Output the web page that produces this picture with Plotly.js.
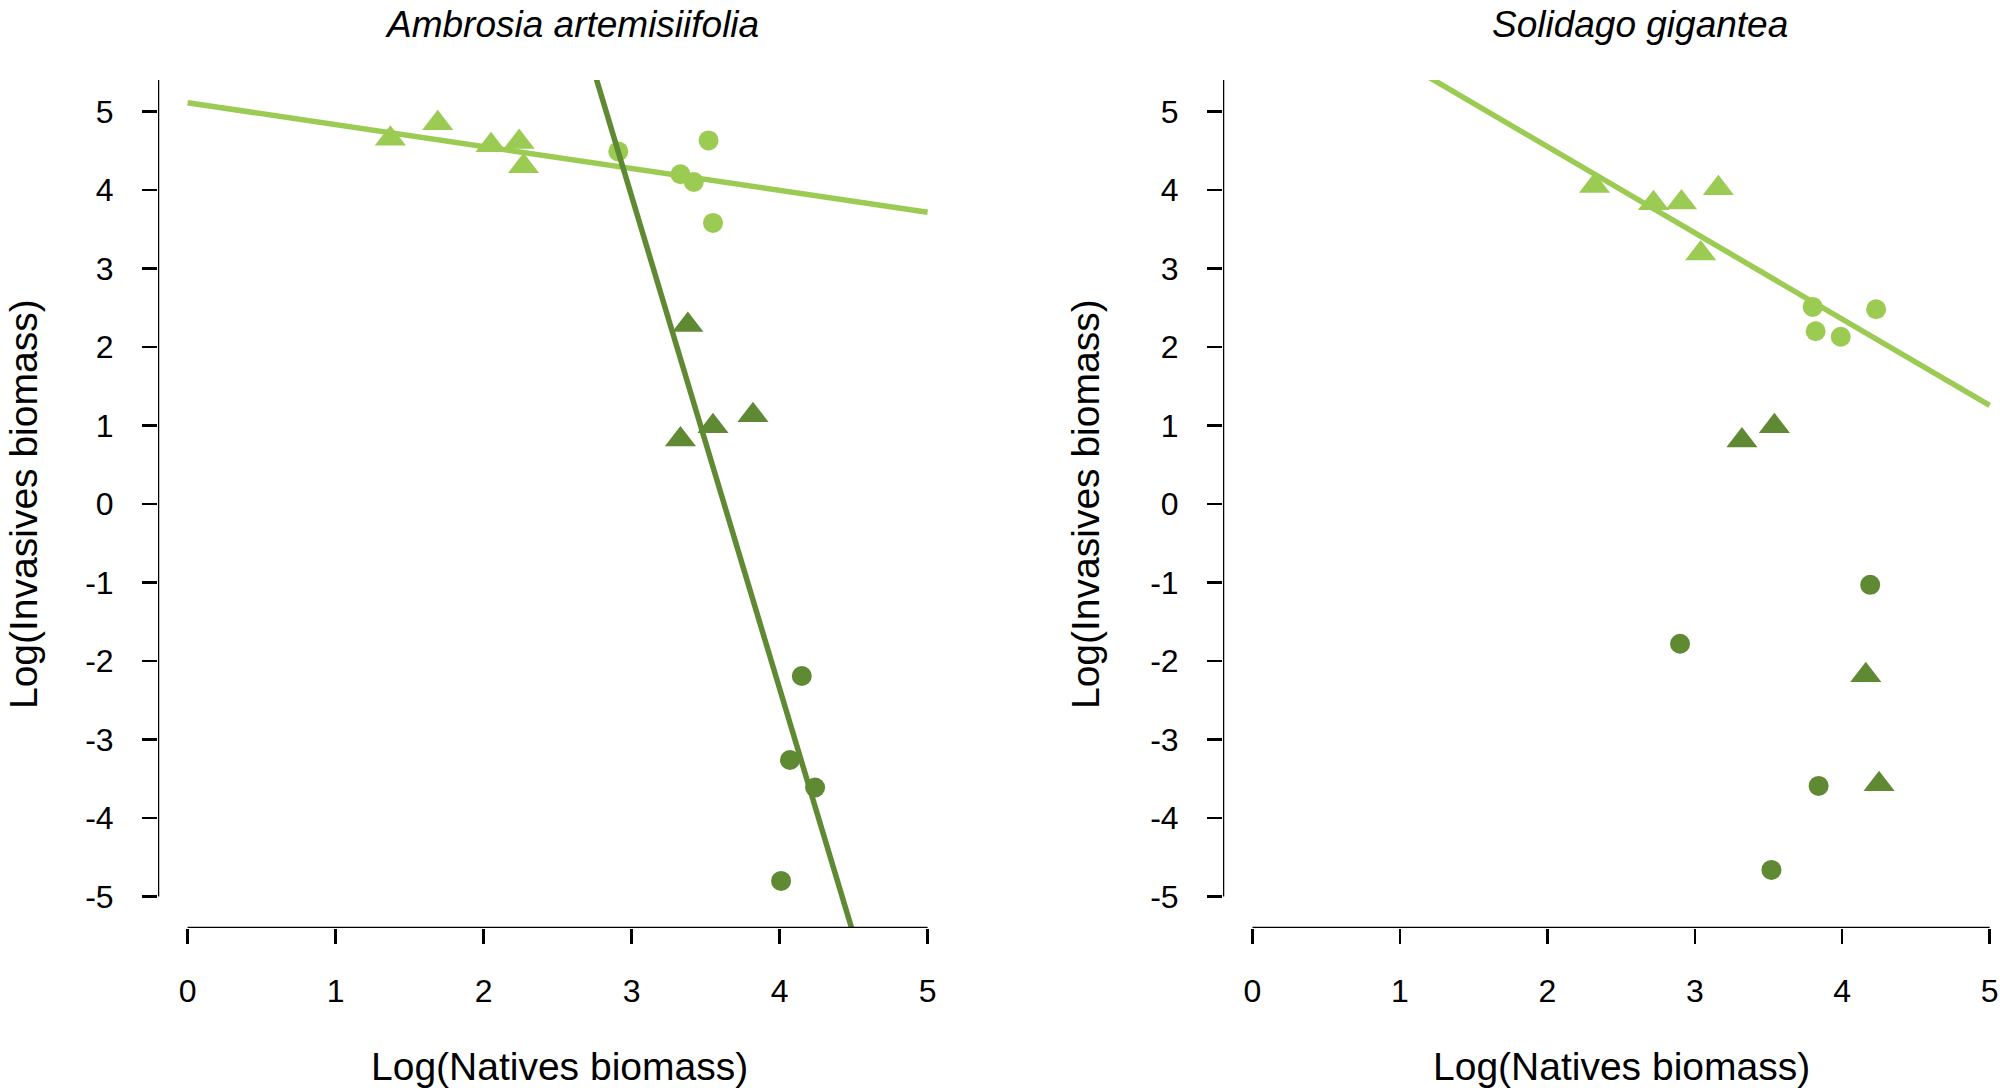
<!DOCTYPE html>
<html>
<head>
<meta charset="utf-8">
<script src="https://cdn.plot.ly/plotly-3.0.1.min.js"></script>
<style>
  html, body { margin: 0; padding: 0; background: #ffffff; }
  #chart_area { width: 2000px; height: 1091px; }
</style>
</head>
<body>
<div id="chart_area"></div>
<script>
// colours of the two groups
var lightGreen = '#9BCB52';
var darkGreen = '#5F8A33';

// Ambrosia artemisiifolia
var ambLightTriX = [1.37, 1.69, 2.05, 2.24, 2.27];
var ambLightTriY = [4.65, 4.85, 4.57, 4.61, 4.30];
var ambLightCircX = [2.91, 3.33, 3.42, 3.52, 3.55];
var ambLightCircY = [4.49, 4.20, 4.10, 4.63, 3.58];
var ambDarkTriX = [3.38, 3.33, 3.55, 3.82];
var ambDarkTriY = [2.28, 0.82, 0.99, 1.13];
var ambDarkCircX = [4.15, 4.07, 4.24, 4.01];
var ambDarkCircY = [-2.19, -3.26, -3.61, -4.80];

// Solidago gigantea
var solLightTriX = [2.32, 2.72, 2.91, 3.16, 3.04];
var solLightTriY = [4.05, 3.83, 3.84, 4.02, 3.19];
var solLightCircX = [3.80, 3.82, 3.99, 4.23];
var solLightCircY = [2.51, 2.20, 2.13, 2.48];
var solDarkTriX = [3.32, 3.54, 4.16, 4.25];
var solDarkTriY = [0.81, 0.99, -2.18, -3.57];
var solDarkCircX = [4.19, 2.90, 3.84, 3.52];
var solDarkCircY = [-1.03, -1.78, -3.59, -4.66];

// fitted lines: [intercept, slope], drawn from x = 0 to 5
var lineEnds = [0, 5];
var ambLightFit = [5.11, -0.279];
var ambDarkFit = [22.73, -6.27];
var solLightFit = [6.75, -1.099];

var xTicks = [0, 1, 2, 3, 4, 5];
var yTicks = [5, 4, 3, 2, 1, 0, -1, -2, -3, -4, -5];

function pts(x, y, sym, col, xa, ya) {
  return {
    type: 'scatter', mode: 'markers', x: x, y: y, xaxis: xa, yaxis: ya,
    marker: { symbol: sym, color: col, size: sym == 'circle' ? 20 : 27, line: { width: 0 } },
    cliponaxis: false, hoverinfo: 'x+y'
  };
}

function fitLine(fit, col, w, xa, ya) {
  return {
    type: 'scatter', mode: 'lines', xaxis: xa, yaxis: ya,
    x: lineEnds,
    y: lineEnds.map(function (v) { return fit[0] + fit[1] * v; }),
    line: { color: col, width: w }, hoverinfo: 'skip'
  };
}

var data = [
  pts(ambLightTriX, ambLightTriY, 'triangle-up', lightGreen, 'x', 'y'),
  pts(ambLightCircX, ambLightCircY, 'circle', lightGreen, 'x', 'y'),
  pts(ambDarkTriX, ambDarkTriY, 'triangle-up', darkGreen, 'x', 'y'),
  pts(ambDarkCircX, ambDarkCircY, 'circle', darkGreen, 'x', 'y'),
  fitLine(ambLightFit, lightGreen, 5.5, 'x', 'y'),
  fitLine(ambDarkFit, darkGreen, 5.5, 'x', 'y'),
  pts(solLightTriX, solLightTriY, 'triangle-up', lightGreen, 'x2', 'y2'),
  pts(solLightCircX, solLightCircY, 'circle', lightGreen, 'x2', 'y2'),
  pts(solDarkTriX, solDarkTriY, 'triangle-up', darkGreen, 'x2', 'y2'),
  pts(solDarkCircX, solDarkCircY, 'circle', darkGreen, 'x2', 'y2'),
  fitLine(solLightFit, lightGreen, 5.5, 'x2', 'y2')
];

var tickFont = { family: 'Liberation Sans, Arial, sans-serif', size: 32, color: '#000' };

function xAxis(dom, anchor) {
  return {
    domain: dom, anchor: anchor, range: [-0.2, 5.05],
    showgrid: false, zeroline: false, showline: false,
    ticks: 'outside', ticklen: 15, tickwidth: 2.5, tickcolor: '#000',
    tickmode: 'array', tickvals: xTicks, ticktext: xTicks.map(String),
    tickfont: tickFont, ticklabelstandoff: 20
  };
}
function yAxis(anchor) {
  return {
    domain: [0.1494, 0.9267], anchor: anchor, range: [-5.4, 5.4],
    showgrid: false, zeroline: false, showline: false,
    ticks: 'outside', ticklen: 15, tickwidth: 2.5, tickcolor: '#000',
    tickmode: 'array', tickvals: yTicks, ticktext: yTicks.map(String),
    tickfont: tickFont, ticklabelstandoff: 22
  };
}

function axisLines(xr, yr) {
  return [
    { type: 'line', xref: xr, yref: yr, x0: -0.2, x1: -0.2, y0: -5, y1: 5.4,
      line: { color: '#000', width: 2.5 } },
    { type: 'line', xref: xr, yref: yr, x0: 0, x1: 5, y0: -5.4, y1: -5.4,
      line: { color: '#000', width: 2.5 } }
  ];
}

var labelFont = { family: 'Liberation Sans, Arial, sans-serif', size: 39, color: '#000' };
var titleFont = { family: 'Liberation Sans, Arial, sans-serif', size: 37, color: '#000' };

function note(text, x, y, font, angle) {
  return {
    text: text, xref: 'paper', yref: 'paper', x: x, y: y,
    xanchor: 'center', yanchor: 'middle', showarrow: false,
    font: font, textangle: angle || 0
  };
}

var layout = {
  width: 2000, height: 1091,
  margin: { l: 0, r: 0, t: 0, b: 0 },
  paper_bgcolor: '#fff', plot_bgcolor: '#fff',
  showlegend: false,
  xaxis: xAxis([0.079, 0.4675], 'y'),
  yaxis: yAxis('x'),
  xaxis2: xAxis([0.6115, 0.9985], 'y2'),
  yaxis2: yAxis('x2'),
  shapes: axisLines('x', 'y').concat(axisLines('x2', 'y2')),
  annotations: [
    note('<i>Ambrosia artemisiifolia</i>', 0.286, 0.978, titleFont),
    note('<i>Solidago gigantea</i>', 0.82, 0.978, titleFont),
    note('Log(Natives biomass)', 0.2795, 0.0229, labelFont),
    note('Log(Natives biomass)', 0.8105, 0.0229, labelFont),
    note('Log(Invasives biomass)', 0.0115, 0.538, labelFont, -90),
    note('Log(Invasives biomass)', 0.5425, 0.538, labelFont, -90)
  ]
};

var config = { responsive: false, displayModeBar: false, staticPlot: true };

Plotly.newPlot('chart_area', data, layout, config);
</script>
</body>
</html>
